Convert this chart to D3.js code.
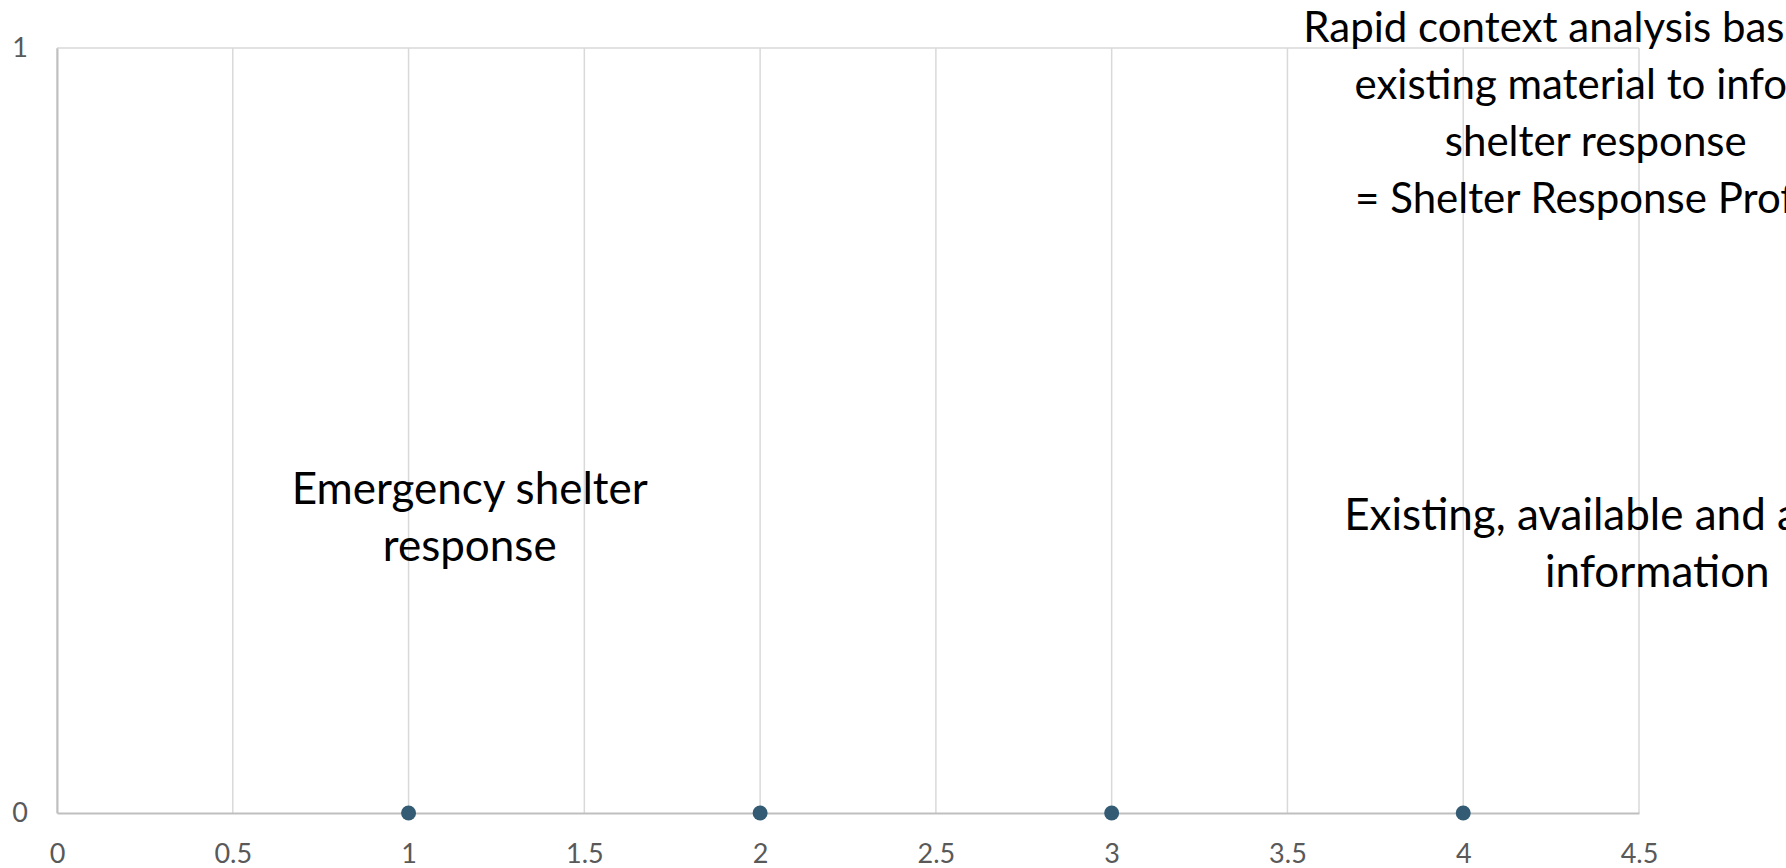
<!DOCTYPE html>
<html>
<head>
<meta charset="utf-8">
<script src="https://cdn.jsdelivr.net/npm/d3@7"></script>
<style>
  body { margin: 0; background: #fff; }
  svg { display: block; font-family: Lato, "Open Sans", sans-serif; }
</style>
</head>
<body>
<svg id="chart"></svg>
<script>
// points along the timeline
var xValues = [1, 2, 3, 4]
var yValues = [0, 0, 0, 0]

var xTicks = [0, 0.5, 1, 1.5, 2, 2.5, 3, 3.5, 4, 4.5]
var yTicks = [0, 1]

// free text boxes placed in data units
var noteLines = [
  ["Emergency shelter", "response"],
  ["Rapid context analysis based on", "existing material to inform", "shelter response", "= Shelter Response Profile"],
  ["Existing, available and accessible", "information"]
]
var noteX = [1.174, 4.377, 4.552]
var noteY = [0.385, 0.913, 0.351]

var width = 1786, height = 868
var margin = {top: 48, right: 147, bottom: 55, left: 57}

var svg = d3.select("#chart").attr("width", width).attr("height", height)

var x = d3.scaleLinear().domain([0, 4.5]).range([margin.left, width - margin.right])
var y = d3.scaleLinear().domain([0, 1]).range([height - margin.bottom, margin.top])

// vertical gridlines
svg.append("g")
  .selectAll("line")
  .data(xTicks)
  .join("line")
  .attr("x1", d => x(d)).attr("x2", d => x(d))
  .attr("y1", y(0)).attr("y2", y(1))
  .attr("stroke", "#d9d9d9").attr("stroke-width", 1.5)

// horizontal gridline at top
svg.append("g")
  .selectAll("line")
  .data(yTicks.filter(d => d > 0))
  .join("line")
  .attr("x1", x(0)).attr("x2", x(4.5))
  .attr("y1", d => y(d)).attr("y2", d => y(d))
  .attr("stroke", "#d9d9d9").attr("stroke-width", 1.5)

// axes
var xAxis = svg.append("g")
  .attr("transform", `translate(0,${y(0)})`)
  .call(d3.axisBottom(x).tickValues(xTicks).tickSize(0).tickPadding(31).tickFormat(d3.format("")))
xAxis.select(".domain").attr("stroke", "#bfbfbf").attr("stroke-width", 2)

var yAxis = svg.append("g")
  .attr("transform", `translate(${x(0)},0)`)
  .call(d3.axisLeft(y).tickValues(yTicks).tickSize(0).tickPadding(29).tickFormat(d3.format("")))
yAxis.select(".domain").attr("stroke", "#bfbfbf").attr("stroke-width", 2)

svg.selectAll(".tick text")
  .attr("fill", "#595959")
  .style("font-size", "27px")
  .style("font-family", "Lato, 'Open Sans', sans-serif")

// points
svg.append("g")
  .selectAll("circle")
  .data(xValues.map((d, i) => ({x: d, y: yValues[i]})))
  .join("circle")
  .attr("cx", d => x(d.x))
  .attr("cy", d => y(d.y))
  .attr("r", 7.5)
  .attr("fill", "#335b74")

// text notes
noteLines.forEach((lines, i) => {
  var t = svg.append("text")
    .attr("text-anchor", "middle")
    .attr("fill", "#000")
    .style("font-size", i == 1 ? "42px" : "44px")
  var n = lines.length
  lines.forEach((line, j) => {
    t.append("tspan")
      .attr("x", x(noteX[i]))
      .attr("y", y(noteY[i]) + (j - (n - 1) / 2) * 57)
      .attr("dy", "0.32em")
      .text(line)
  })
})
</script>
</body>
</html>
